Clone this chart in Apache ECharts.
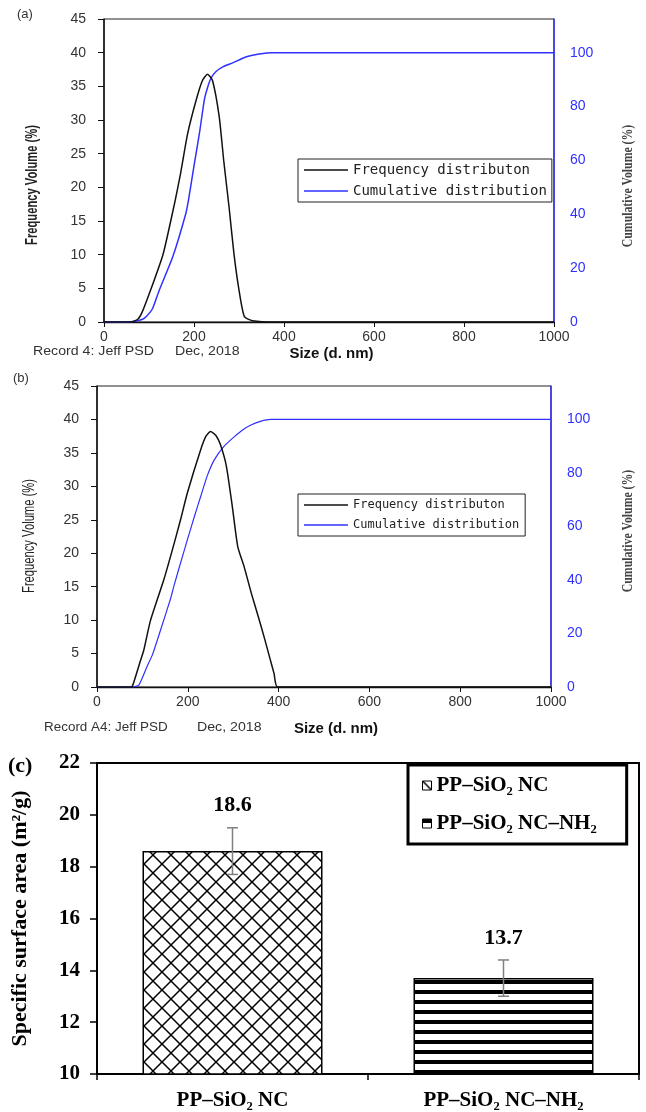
<!DOCTYPE html>
<html><head><meta charset="utf-8">
<script src="https://cdn.jsdelivr.net/npm/echarts@6/dist/echarts.min.js"></script>
<style>html,body{margin:0;padding:0;background:#fff}#c{width:646px;height:1112px}</style>
</head><body><div id="c"></div>
<script>
// ---------- Panel (a) ----------
const sizeFreqA = [0, 60, 75, 85, 105, 131, 145, 158, 170, 186, 205, 219, 230, 241, 256, 266, 278, 289, 300, 312, 330, 380, 1000];
const freqA     = [0, 0, 0.4, 1.5, 5, 10, 14, 18, 22, 28, 33, 35.9, 36.8, 35.9, 30.5, 24, 17, 10, 4.75, 0.8, 0.2, 0, 0];
const sizeCumA  = [0, 50, 70, 86, 94, 108, 123, 153, 182, 188, 200, 212, 223, 230, 238, 249, 265, 286, 315, 345, 374, 1000];
const cumA      = [0, 0, 0.3, 1, 2, 5, 11.9, 24.3, 40.4, 45.5, 58, 70, 82.5, 87, 90.6, 93, 94.8, 96.2, 98.4, 99.5, 100, 100];
// ---------- Panel (b) ----------
const sizeFreqB = [0, 75, 80, 96, 103, 118, 147, 166, 184, 199, 228, 240, 250, 262, 272, 285, 298, 310, 324, 340, 354, 368, 380, 390, 398, 1000];
const freqB     = [0, 0, 0.5, 4, 5.5, 10, 16, 20.5, 25, 29, 35.4, 37.5, 38.2, 37.6, 36.2, 33, 27, 21, 18, 14, 10.8, 7.5, 4.5, 2, 0, 0];
const sizeCumB  = [0, 78, 92, 110, 122, 140, 162, 169, 180, 199, 215, 228, 243, 258, 280, 302, 320, 339, 360, 383, 1000];
const cumB      = [0, 0, 0.7, 7.6, 12, 21.3, 33, 37.5, 44, 55, 64, 71, 79, 84.8, 90, 93.5, 96, 97.9, 99.3, 100, 100];
// ---------- Panel (c) ----------
const categories = ['PP\u2013SiO\u2082 NC', 'PP\u2013SiO\u2082 NC\u2013NH\u2082'];
const surfaceArea = [18.6, 13.7];
const errLow  = [17.7, 13.0];
const errHigh = [19.5, 14.4];
// tick settings
const freqTicks = {min: 0, max: 45, interval: 5};
const cumTicks  = {min: 0, max: 112.5, interval: 20};
const sizeTicks = {min: 0, max: 1000, interval: 200};
const areaTicks = {min: 10, max: 22, interval: 2};

const zip = (xs, ys) => xs.map((x, i) => [x, ys[i]]);
const BLUE = '#3030ff';

function crossPattern() {
  const s = 18, c = document.createElement('canvas'); c.width = s; c.height = s;
  const g = c.getContext('2d');
  g.fillStyle = '#fff'; g.fillRect(0, 0, s, s);
  g.strokeStyle = '#000'; g.lineWidth = 1.5;
  g.beginPath(); g.moveTo(-2, -2); g.lineTo(s + 2, s + 2); g.moveTo(s + 2, -2); g.lineTo(-2, s + 2); g.stroke();
  return c;
}
function stripePattern() {
  const c = document.createElement('canvas'); c.width = 10; c.height = 10;
  const g = c.getContext('2d');
  g.fillStyle = '#fff'; g.fillRect(0, 0, 10, 10);
  g.fillStyle = '#000'; g.fillRect(0, 0, 10, 4);
  return c;
}

const tickFont = {fontFamily: 'Liberation Sans', fontSize: 14, color: '#333'};
const serifBold = {fontFamily: 'Liberation Serif', fontWeight: 'bold', color: '#000'};
const plainNum = v => String(v);

function xSize(grid, gap, padLeft) {
  return {gridIndex: grid, type: 'value', ...sizeTicks,
    axisLine: {show: true, lineStyle: {color: '#111', width: 1.3}},
    axisTick: {show: true, length: 5, lineStyle: {color: '#111'}},
    axisLabel: {...tickFont, margin: 8, formatter: plainNum},
    splitLine: {show: false},
    name: 'Size (d. nm)', nameLocation: 'middle', nameGap: gap,
    nameTextStyle: {fontFamily: 'Liberation Sans', fontWeight: 'bold', fontSize: 15, color: '#111', padding: [0, 0, 0, padLeft]}};
}
function yFreq(grid) {
  return {gridIndex: grid, type: 'value', position: 'left', ...freqTicks,
    axisLine: {show: true, lineStyle: {color: '#111', width: 1.5}},
    axisTick: {show: true, length: 6, lineStyle: {color: '#111'}},
    axisLabel: {...tickFont, margin: 18},
    splitLine: {show: false}};
}
function yCum(grid) {
  return {gridIndex: grid, type: 'value', position: 'right', ...cumTicks,
    axisLine: {show: true, lineStyle: {color: BLUE, width: 1.5}},
    axisTick: {show: false},
    axisLabel: {fontFamily: 'Liberation Sans', fontSize: 14, color: BLUE, margin: 16, showMaxLabel: false},
    splitLine: {show: false}};
}
function lineLegend(left, top, size, pad, gap) {
  return {data: ['Frequency distributon', 'Cumulative distribution'], orient: 'vertical', left, top,
    icon: 'rect', itemWidth: 44, itemHeight: 1.5, itemGap: gap, padding: pad, borderColor: '#222', borderWidth: 1,
    textStyle: {fontFamily: 'DejaVu Sans Mono', fontSize: size, color: '#222', lineHeight: size + 2}};
}
function rotText(x, y, text, font, fill, sx) {
  return {type: 'text', x, y, rotation: Math.PI / 2, scaleX: sx,
    style: {text, font, fill, align: 'center', verticalAlign: 'middle'}};
}
function plainText(x, y, text, font, sx) {
  return {type: 'text', x, y, scaleX: sx || 1, style: {text, font, fill: '#333', align: 'left', verticalAlign: 'middle'}};
}
const lineSeries = (name, xi, yi, data, color, w) => ({name, type: 'line', xAxisIndex: xi, yAxisIndex: yi, data,
  symbol: 'none', smooth: 0.2, lineStyle: {color, width: w}, itemStyle: {color}});

const chart = echarts.init(document.getElementById('c'));
chart.setOption({
  animation: false,
  backgroundColor: '#fff',
  grid: [
    {left: 104, width: 450, top: 19, height: 303, show: true, borderColor: '#222', borderWidth: 1},
    {left: 97, width: 454, top: 386, height: 301, show: true, borderColor: '#222', borderWidth: 1},
    {left: 97, width: 542, top: 763, height: 311, show: true, borderColor: '#000', borderWidth: 2}
  ],
  xAxis: [
    xSize(0, 24, 5),
    xSize(1, 34, 24),
    {gridIndex: 2, type: 'category', data: categories,
      axisLine: {show: true, lineStyle: {color: '#000', width: 2}},
      axisTick: {show: true, length: 6, lineStyle: {color: '#000', width: 1.5}},
      axisLabel: {...serifBold, fontSize: 21, margin: 16}}
  ],
  yAxis: [
    yFreq(0), yCum(0), yFreq(1), yCum(1),
    {gridIndex: 2, type: 'value', ...areaTicks,
      axisLine: {show: true, lineStyle: {color: '#000', width: 2}},
      axisTick: {show: true, length: 7, lineStyle: {color: '#000', width: 1.5}},
      axisLabel: {...serifBold, fontSize: 21, margin: 17},
      splitLine: {show: false},
      name: 'Specific surface area (m\u00b2/g)', nameLocation: 'middle', nameGap: 66,
      nameTextStyle: {...serifBold, fontSize: 22}}
  ],
  legend: [
    lineLegend(298, 159, 14, [3, 5, 3, 6], 5),
    lineLegend(298, 494, 12, [4, 6, 4, 6], 6),
    {data: categories, orient: 'vertical', left: 408, top: 765, icon: 'rect',
      itemWidth: 9, itemHeight: 9, itemGap: 17, padding: [10, 30, 10, 14],
      borderColor: '#000', borderWidth: 3,
      itemStyle: {borderColor: '#000', borderWidth: 1},
      textStyle: {...serifBold, fontSize: 21}}
  ],
  graphic: [
    plainText(17, 14, '(a)', '13px "Liberation Sans"'),
    plainText(13, 378, '(b)', '13px "Liberation Sans"'),
    plainText(33, 352, 'Record 4: Jeff PSD', '12px "Liberation Sans"', 1.18),
    plainText(175, 352, 'Dec, 2018', '12px "Liberation Sans"', 1.18),
    plainText(44, 728, 'Record A4: Jeff PSD', '12px "Liberation Sans"', 1.12),
    plainText(197, 728, 'Dec, 2018', '12px "Liberation Sans"', 1.18),
    rotText(33, 185, 'Frequency Volume (%)', 'bold 16px "Liberation Sans"', '#222', 0.70),
    rotText(30, 536, 'Frequency Volume (%)', '16px "Liberation Sans"', '#222', 0.70),
    rotText(628, 186, 'Cumulative Volume (%)', 'bold 14px "Liberation Serif"', '#444', 0.84),
    rotText(628, 531, 'Cumulative Volume (%)', 'bold 14px "Liberation Serif"', '#444', 0.84),
    {type: 'text', x: 8, y: 766, style: {text: '(c)', font: 'bold 22px "Liberation Serif"', fill: '#000', align: 'left', verticalAlign: 'middle'}}
  ],
  series: [
    lineSeries('Cumulative distribution', 0, 1, zip(sizeCumA, cumA), BLUE, 1.5),
    lineSeries('Frequency distributon', 0, 0, zip(sizeFreqA, freqA), '#111', 1.5),
    lineSeries('Cumulative distribution', 1, 3, zip(sizeCumB, cumB), BLUE, 1.2),
    lineSeries('Frequency distributon', 1, 2, zip(sizeFreqB, freqB), '#111', 1.5),
    {name: categories[0], type: 'bar', xAxisIndex: 2, yAxisIndex: 4, barWidth: 180, barGap: '-100%',
      data: [surfaceArea[0], '-'],
      itemStyle: {color: {image: crossPattern(), repeat: 'repeat'}, borderColor: '#000', borderWidth: 1.5}},
    {name: categories[1], type: 'bar', xAxisIndex: 2, yAxisIndex: 4, barWidth: 180, barGap: '-100%',
      data: ['-', surfaceArea[1]],
      itemStyle: {color: {image: stripePattern(), repeat: 'repeat'}, borderColor: '#000', borderWidth: 1.5}},
    {type: 'custom', xAxisIndex: 2, yAxisIndex: 4, z: 10,
      encode: {x: 0, y: [1, 2]},
      data: categories.map((c, i) => [i, errLow[i], errHigh[i], surfaceArea[i]]),
      renderItem: (params, api) => {
        const i = api.value(0);
        const lo = api.coord([i, api.value(1)]);
        const hi = api.coord([i, api.value(2)]);
        const cw = 5.5, st = {stroke: '#808080', lineWidth: 1.5};
        return {type: 'group', children: [
          {type: 'line', shape: {x1: hi[0], y1: hi[1], x2: lo[0], y2: lo[1]}, style: st},
          {type: 'line', shape: {x1: hi[0] - cw, y1: hi[1], x2: hi[0] + cw, y2: hi[1]}, style: st},
          {type: 'line', shape: {x1: lo[0] - cw, y1: lo[1], x2: lo[0] + cw, y2: lo[1]}, style: st},
          {type: 'text', x: hi[0], y: hi[1] - 22, style: {text: api.value(3).toFixed(1),
            font: 'bold 22px "Liberation Serif"', fill: '#000', align: 'center', verticalAlign: 'middle'}}
        ]};
      }}
  ]
});
</script></body></html>
